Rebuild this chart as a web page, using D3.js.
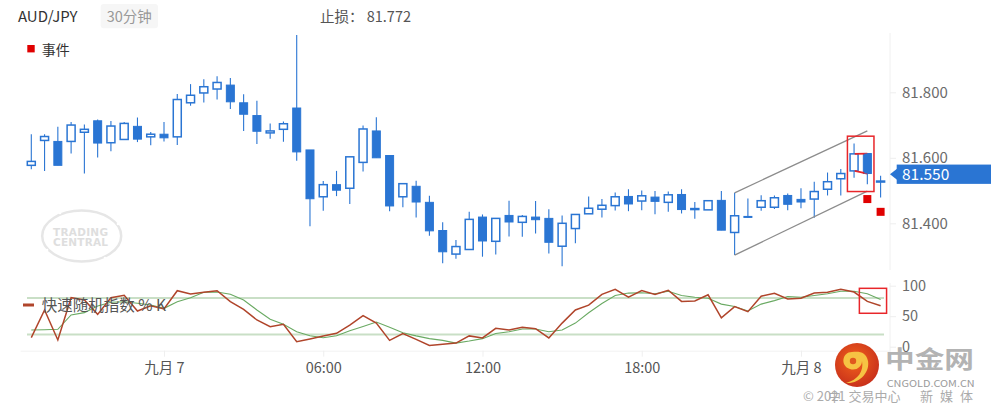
<!DOCTYPE html>
<html><head><meta charset="utf-8">
<script src="https://cdn.jsdelivr.net/npm/d3@7"></script>
<style>
html,body{margin:0;padding:0;background:#fff;}
svg{display:block;font-family:"Noto Sans CJK SC","Noto Sans",sans-serif;}
</style></head>
<body>
<svg id="c" width="991" height="415"></svg>
<script>
// ---------------- DATA ----------------
const symbol = "AUD/JPY";
const period = "30分钟";
const stopLoss = 81.772;
const lastPrice = 81.550;
const openP  = [81.577,81.653,81.650,81.650,81.678,81.713,81.646,81.656,81.696,81.664,81.672,81.664,81.768,81.798,81.810,81.822,81.768,81.729,81.676,81.687,81.752,81.624,81.481,81.518,81.507,81.586,81.682,81.607,81.481,81.513,81.464,81.378,81.306,81.320,81.419,81.345,81.424,81.403,81.419,81.415,81.330,81.384,81.429,81.443,81.454,81.482,81.468,81.480,81.464,81.488,81.444,81.441,81.470,81.372,81.421,81.449,81.449,81.485,81.473,81.474,81.504,81.536,81.560,81.613,81.529];
const highP  = [81.672,81.672,81.695,81.709,81.702,81.717,81.712,81.709,81.723,81.679,81.709,81.795,81.825,81.840,81.849,81.844,81.794,81.774,81.705,81.711,81.975,81.624,81.529,81.560,81.604,81.699,81.724,81.607,81.521,81.530,81.484,81.403,81.349,81.435,81.427,81.415,81.469,81.425,81.468,81.443,81.424,81.427,81.482,81.474,81.494,81.504,81.500,81.499,81.497,81.504,81.465,81.470,81.499,81.493,81.476,81.486,81.485,81.491,81.507,81.527,81.555,81.566,81.644,81.613,81.545];
const lowP   = [81.565,81.560,81.577,81.613,81.552,81.601,81.620,81.656,81.648,81.638,81.650,81.639,81.759,81.769,81.778,81.749,81.682,81.642,81.658,81.649,81.591,81.391,81.438,81.483,81.459,81.558,81.600,81.437,81.449,81.418,81.362,81.278,81.292,81.320,81.298,81.305,81.360,81.359,81.369,81.308,81.269,81.339,81.429,81.418,81.439,81.437,81.440,81.428,81.435,81.430,81.414,81.441,81.379,81.303,81.418,81.438,81.444,81.440,81.446,81.417,81.485,81.485,81.539,81.519,81.479];
const closeP = [81.589,81.665,81.577,81.700,81.687,81.645,81.697,81.705,81.657,81.672,81.661,81.778,81.791,81.817,81.830,81.771,81.733,81.681,81.682,81.704,81.618,81.475,81.518,81.501,81.603,81.688,81.600,81.453,81.521,81.465,81.377,81.313,81.329,81.412,81.346,81.415,81.404,81.421,81.411,81.342,81.400,81.427,81.446,81.455,81.481,81.459,81.484,81.467,81.487,81.442,81.445,81.469,81.379,81.423,81.418,81.469,81.478,81.458,81.465,81.497,81.527,81.552,81.612,81.552,81.529];
// fast stochastic %K and its signal line
const stochK = [14.8,60.2,11,80.3,76.6,53,80.3,84.2,58.5,67.2,61.8,91.8,86.4,89.2,91.8,73.8,61.3,43.8,32.8,36.7,8.2,12.6,17.5,22,35.5,51.1,38.7,10.4,21.7,12.1,1.9,4,5.9,17.7,14.3,30.2,27.4,31.9,29.6,14.3,38.7,60.2,68.1,85.7,94.2,81.1,91.9,85.7,92.5,74.3,74.9,85.1,47.2,65.8,57.4,82.8,87.4,78.3,79.4,87.9,89.1,94.2,89.6,74.3,67];
const stochD = [27.4,27.8,28.5,52,55.8,66.7,72.8,73.8,71.1,68.4,62.9,73.8,80.3,89.2,89.7,85.9,76.6,60.2,44.9,36.7,24.6,18,14.8,18,26,33,40.4,31.9,22.8,17.7,13.2,10.4,5.9,9.3,13.2,21.7,24.5,29,29,24.5,27.4,38.7,55.7,70.9,84,87.9,88.5,86.8,90.8,84,81.1,79.4,69.8,65.8,58.5,69.8,75.5,82.3,81.1,84,86.8,90.8,90.8,86.8,77.2];
const stochLevels = [20, 80];
const stochTicks = [0, 50, 100];
const priceTicks = [81.4, 81.6, 81.8];
const timeTickIndex = [10, 22, 34, 46, 58];
const timeTickLabels = ["九月 7", "06:00", "12:00", "18:00", "九月 8"];
// annotations
const channelUpper = [{i:53, p:81.493}, {i:63, p:81.682}];
const channelLower = [{i:53, p:81.303}, {i:63, p:81.498}];
const patternBox = {i0:61.5, i1:63.5, pTop:81.666, pBot:81.497};
const patternLines = [[{i:62.05,p:81.612},{i:63,p:81.613}], [{i:62.05,p:81.560},{i:63,p:81.552}]];
const events = [{i:63, p:81.474}, {i:64, p:81.435}];
const stochBox = {i0:62.4, i1:64.45, vTop:95.7, vBot:54.8};

// ---------------- CHART ----------------
const svg = d3.select("#c");
const BLUE = "#2a75d3";
const candles = openP.map((o,i)=>({i, o, h:highP[i], l:lowP[i], c:closeP[i]}));

const x = d3.scaleLinear().domain([0, candles.length-1]).range([31.3, 880.6]);
const yP = d3.scaleLinear().domain([81.4, 81.8]).range([223.3, 92.3]);
const yS = d3.scaleLinear().domain([0, 100]).range([346.7, 285.7]);
const bodyW = 8;

// header
svg.append("text").attr("x",18).attr("y",21.5).attr("font-size",15).attr("fill","#333").text(symbol);
svg.append("rect").attr("x",100.7).attr("y",4).attr("width",57.3).attr("height",24.3).attr("rx",3).attr("fill","#f6f6f6");
svg.append("text").attr("x",129.3).attr("y",21.5).attr("text-anchor","middle").attr("font-size",14.5).attr("fill","#999").text(period);
svg.append("text").attr("x",320).attr("y",21.5).attr("font-size",14.5).attr("fill","#555").text("止损：" + " " + stopLoss.toFixed(3));

// legend events
svg.append("rect").attr("x",27.3).attr("y",45).attr("width",7.4).attr("height",7.4).attr("fill","#e00000");
svg.append("text").attr("x",41.7).attr("y",55.2).attr("font-size",14).attr("fill","#333").text("事件");

// Trading Central watermark
const tc = svg.append("g").attr("opacity",1);
tc.append("ellipse").attr("cx",81.7).attr("cy",236).attr("rx",39.5).attr("ry",25.5)
  .attr("fill","none").attr("stroke","#e6e6e6").attr("stroke-width",2.5);
tc.append("text").attr("x",80.5).attr("y",236.3).attr("text-anchor","middle").attr("font-size",10.5)
  .attr("font-weight","bold").attr("fill","#dedede").attr("font-family","'DejaVu Sans',sans-serif").attr("textLength",55).text("TRADING");
tc.append("text").attr("x",80.5).attr("y",246).attr("text-anchor","middle").attr("font-size",10.5)
  .attr("font-weight","bold").attr("fill","#dedede").attr("font-family","'DejaVu Sans',sans-serif").attr("textLength",55).text("CENTRAL");
[[46,221],[118,224],[47,250],[105,258],[60,213]].forEach(([a,b])=>tc.append("circle").attr("cx",a).attr("cy",b).attr("r",1.3).attr("fill","#fff"));

// price axis
svg.append("line").attr("x1",890).attr("x2",890).attr("y1",33).attr("y2",270).attr("stroke","#f0f0f0");
const pa = svg.append("g").attr("transform","translate(890,0)")
  .call(d3.axisRight(yP).tickValues(priceTicks).tickFormat(d3.format(".3f")).tickSize(6).tickPadding(6));
pa.select(".domain").remove();
pa.selectAll(".tick line").attr("stroke","#eeeeee");
pa.selectAll(".tick text").attr("font-size",15).attr("fill","#6b6b6b").attr("font-family","'Noto Sans CJK SC',sans-serif");

// candles
const cg = svg.append("g");
cg.selectAll("line.wick").data(candles).join("line").attr("class","wick")
  .attr("x1",d=>x(d.i)).attr("x2",d=>x(d.i)).attr("y1",d=>yP(d.h)).attr("y2",d=>yP(d.l))
  .attr("stroke",BLUE).attr("stroke-width",1.1);
cg.selectAll("rect.body").data(candles).join("rect").attr("class","body")
  .attr("x",d=>x(d.i)-bodyW/2).attr("width",bodyW)
  .attr("y",d=>yP(Math.max(d.o,d.c)))
  .attr("height",d=>Math.max(1, Math.abs(yP(d.o)-yP(d.c))))
  .attr("fill",d=>d.c < d.o ? BLUE : "#fff")
  .attr("stroke",BLUE).attr("stroke-width",d=>d.c < d.o ? 1 : 1.5);

// channel
const lineP = d3.line().x(d=>x(d.i)).y(d=>yP(d.p));
[channelUpper, channelLower].forEach(ch=>svg.append("path").attr("d",lineP(ch)).attr("fill","none").attr("stroke","#8c8c8c").attr("stroke-width",1.3));
// pattern
patternLines.forEach(pl=>svg.append("path").attr("d",lineP(pl)).attr("fill","none").attr("stroke","#e8262a").attr("stroke-width",1.8));
// redraw the filled candle of the pattern above the lines
svg.append("rect").attr("x",x(63)-bodyW/2+1).attr("width",bodyW-1).attr("y",yP(openP[63])).attr("height",yP(closeP[63])-yP(openP[63])).attr("fill",BLUE);
svg.append("rect").attr("x",x(patternBox.i0)).attr("y",yP(patternBox.pTop))
  .attr("width",x(patternBox.i1)-x(patternBox.i0)).attr("height",yP(patternBox.pBot)-yP(patternBox.pTop))
  .attr("fill","none").attr("stroke","#e8262a").attr("stroke-width",1.5);
svg.selectAll("rect.ev").data(events).join("rect").attr("class","ev")
  .attr("x",d=>x(d.i)-4).attr("y",d=>yP(d.p)-4).attr("width",8).attr("height",8).attr("fill","#e00000");

// last price label
const ly = yP(lastPrice);
svg.append("path").attr("d",`M890,${ly} L897,${ly-5.5} L897,${ly+5.5} Z`).attr("fill",BLUE);
svg.append("rect").attr("x",896.7).attr("y",ly-9.6).attr("width",95).attr("height",19.3).attr("fill",BLUE);
svg.append("text").attr("x",902).attr("y",ly).attr("dy","0.35em").attr("font-size",15.5).attr("fill","#fff").text(lastPrice.toFixed(3));

// stochastic panel
svg.append("line").attr("x1",890).attr("x2",890).attr("y1",283).attr("y2",352).attr("stroke","#f0f0f0");
stochLevels.forEach(v=>svg.append("line").attr("x1",27).attr("x2",884).attr("y1",yS(v)).attr("y2",yS(v)).attr("stroke","#c9dfc6").attr("stroke-width",2));
const lineS = d3.line().x((d,i)=>x(i)).y(d=>yS(d));
svg.append("path").attr("d",lineS(stochD)).attr("fill","none").attr("stroke","#6aaa63").attr("stroke-width",1.1);
svg.append("path").attr("d",lineS(stochK)).attr("fill","none").attr("stroke","#b0452b").attr("stroke-width",1.5);
svg.append("rect").attr("x",x(stochBox.i0)).attr("y",yS(stochBox.vTop))
  .attr("width",x(stochBox.i1)-x(stochBox.i0)).attr("height",yS(stochBox.vBot)-yS(stochBox.vTop))
  .attr("fill","none").attr("stroke","#e8262a").attr("stroke-width",1.5);
const sa = svg.append("g").attr("transform","translate(890,0)")
  .call(d3.axisRight(yS).tickValues(stochTicks).tickSize(6).tickPadding(6));
sa.select(".domain").remove();
sa.selectAll(".tick line").attr("stroke","#eeeeee");
sa.selectAll(".tick text").attr("font-size",14.5).attr("fill","#6b6b6b").attr("font-family","'Noto Sans CJK SC',sans-serif");
// legend
svg.append("line").attr("x1",23).attr("x2",34).attr("y1",305).attr("y2",305).attr("stroke","#b0452b").attr("stroke-width",3);
svg.append("text").attr("x",41.7).attr("y",311.3).attr("font-size",15.5).attr("fill","#555").text("快速随机指数 % K");

// time axis
const ta = svg.append("g").attr("transform","translate(0,350.7)")
  .call(d3.axisBottom(x).tickValues(timeTickIndex).tickFormat((d,i)=>timeTickLabels[i]).tickSize(6).tickPadding(6));
ta.select(".domain").attr("d","M20.7,0.5H890").attr("stroke","#f2f2f2");
ta.selectAll(".tick line").attr("stroke","#efefef");
ta.selectAll(".tick text").attr("font-size",14.5).attr("fill","#555").attr("font-family","'Noto Sans CJK SC',sans-serif");

// 中金网 watermark
const defs = svg.append("defs");
const rg = defs.append("radialGradient").attr("id","lg").attr("cx","45%").attr("cy","40%").attr("r","60%");
rg.append("stop").attr("offset","0%").attr("stop-color","#f2621c");
rg.append("stop").attr("offset","100%").attr("stop-color","#c9311b");
const wm = svg.append("g");
wm.append("circle").attr("cx",857).attr("cy",365).attr("r",22).attr("fill","url(#lg)");
wm.append("path").attr("d","M852,352 C842,352 840,366 850,369 C856,371 862,367 862,361 C864,371 858,380 846,383 C860,384 870,372 868,361 C866,352 860,351 852,352 Z").attr("fill","#f6c343");
wm.append("circle").attr("cx",853).attr("cy",361).attr("r",3.2).attr("fill","#e0581e");
wm.append("text").attr("x",885).attr("y",368).attr("font-size",24).attr("font-weight","bold").attr("fill","#b3b3b3")
  .attr("textLength",89).attr("lengthAdjust","spacingAndGlyphs").text("中金网");
wm.append("text").attr("x",886.7).attr("y",387).attr("font-size",9.5).attr("fill","#9a9a9a")
  .attr("textLength",88).attr("lengthAdjust","spacingAndGlyphs").text("CNGOLD.COM.CN");
wm.append("text").attr("x",803).attr("y",401).attr("font-size",13).attr("fill","#ababab").text("© 2021 交易中心");
wm.append("text").attr("x",828).attr("y",401).attr("font-size",13).attr("fill","#ababab").text("中");
wm.append("text").attr("x",920).attr("y",401).attr("font-size",13).attr("fill","#ababab").attr("textLength",53).text("新 媒 体");
</script>
</body></html>
